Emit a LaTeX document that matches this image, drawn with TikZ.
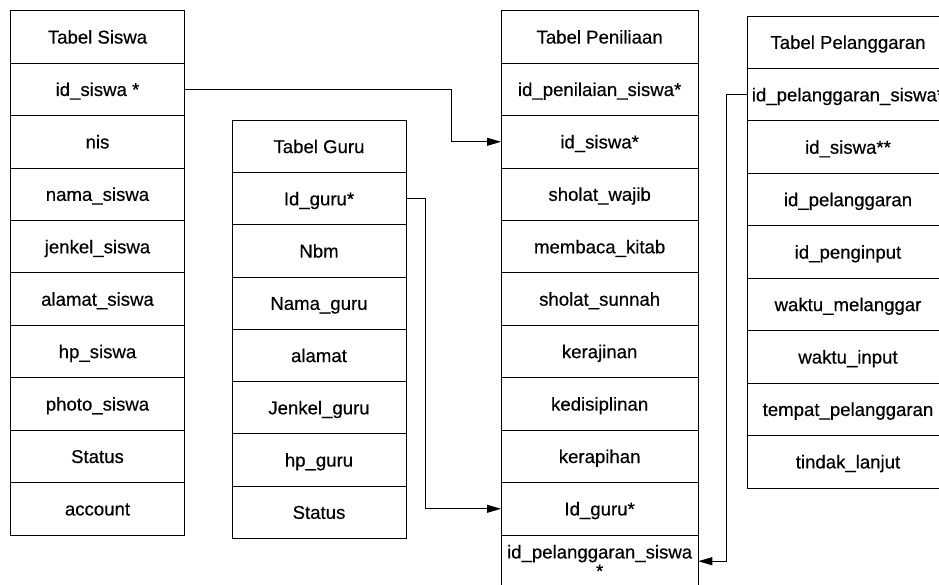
\documentclass[tikz,border=0pt]{standalone}
\usepackage{fontspec}
\setmainfont{Liberation Sans}[FakeBold=0.4]
\usetikzlibrary{arrows.meta}
\begin{document}
\begin{tikzpicture}[x=1pt,y=-1pt,
  cellbase/.style={draw=black, line width=0.8pt, rectangle, inner sep=0pt, outer sep=0pt,
    font=\fontsize{18.6pt}{19pt}\selectfont},
  cell/.style={cellbase, text height=13.3pt, text depth=0pt},
  conn/.style={draw=black, line width=0.8pt},
  arr/.style={conn, -{Triangle[length=14pt,width=8pt]}}]
\useasboundingbox (0,0) rectangle (939,585);
\clip (0,0) rectangle (939,585);

% Tabel Siswa
\foreach \txt [count=\i] in {Tabel Siswa, id\_siswa *, nis, nama\_siswa, jenkel\_siswa,
    alamat\_siswa, hp\_siswa, photo\_siswa, Status, account}
  \node[cell, minimum width=173.6pt, minimum height=52.43pt] (s\i)
    at (97.5, {10.7+52.43*(\i-0.5)}) {\txt};

% Tabel Guru
\foreach \txt [count=\i] in {Tabel Guru, Id\_guru*, Nbm, Nama\_guru, alamat, Jenkel\_guru,
    hp\_guru, Status}
  \node[cell, minimum width=174pt, minimum height=52.25pt] (g\i)
    at (319, {120.3+52.25*(\i-0.5)}) {\txt};

% Tabel Peniliaan
\foreach \txt [count=\i] in {Tabel Peniliaan, id\_penilaian\_siswa*, id\_siswa*, sholat\_wajib,
    membaca\_kitab, sholat\_sunnah, kerajinan, kedisiplinan, kerapihan, Id\_guru*}
  \node[cell, minimum width=197.3pt, minimum height=52.43pt] (p\i)
    at (599.65, {10.7+52.43*(\i-0.5)}) {\txt};
\node[cellbase, minimum width=197.3pt, minimum height=52.43pt, align=center] (p11)
  at (599.65, {10.7+52.43*10.5}) {id\_pelanggaran\_siswa\\*};

% Tabel Pelanggaran (its right side runs past the edge)
\foreach \txt [count=\i] in {Tabel Pelanggaran, id\_pelanggaran\_siswa*, id\_siswa**,
    id\_pelanggaran, id\_penginput, waktu\_melanggar, waktu\_input, tempat\_pelanggaran,
    tindak\_lanjut}
  \node[cell, minimum width=201.5pt, minimum height=52.44pt] (l\i)
    at (848, {16+52.44*(\i-0.5)}) {\txt};

% bend points of the relations
\coordinate (bendA) at (451,0);
\coordinate (bendB) at (425.3,0);
\coordinate (bendC) at (726.7,0);

% relations
\draw[arr] (s2.east) -- (s2.east -| bendA) |- (p3.west);
\draw[arr] (g2.east) -- (g2.east -| bendB) |- (p10.west);
\draw[arr] (l2.west) -- (l2.west -| bendC) |- (p11.east);
\end{tikzpicture}
\end{document}
